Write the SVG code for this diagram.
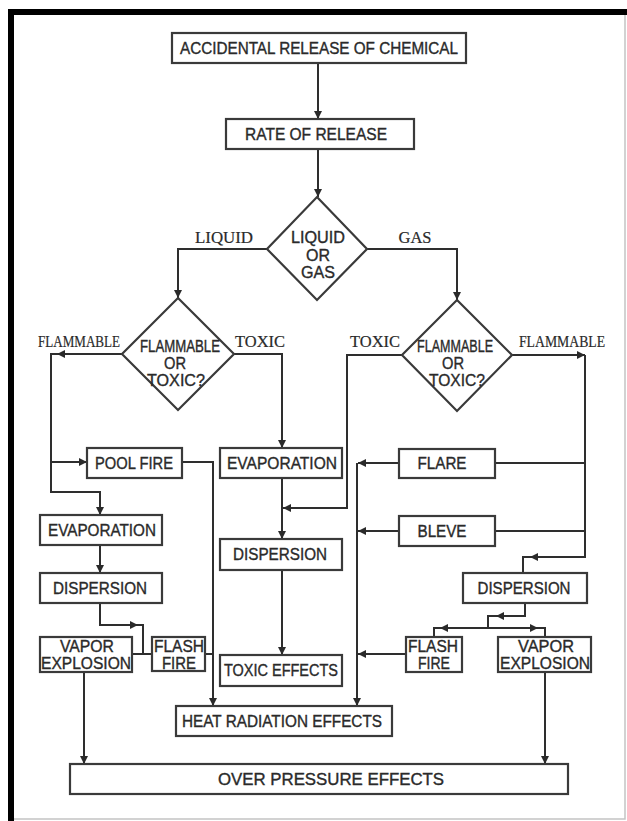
<svg xmlns="http://www.w3.org/2000/svg" width="627" height="821" viewBox="0 0 627 821">
  <defs>
    <marker id="ah" viewBox="0 0 10 10" refX="10" refY="5" markerWidth="9" markerHeight="8" markerUnits="userSpaceOnUse" orient="auto">
      <path d="M0,0 L10,5 L0,10 z" fill="#2a2a2a"/>
    </marker>
  </defs>
  <style>
    .box { fill: #ffffff; stroke: #3a3a3a; stroke-width: 2.2; }
    .dia { fill: #ffffff; stroke: #3a3a3a; stroke-width: 2.2; stroke-linejoin: miter; }
    .ln { fill: none; stroke: #2e2e2e; stroke-width: 2; }
    .arr { fill: none; stroke: #2e2e2e; stroke-width: 2; marker-end: url(#ah); }
    .t { font-family: "Liberation Sans", Arial, sans-serif; font-size: 16px; fill: #2a2a2a; stroke: #2a2a2a; stroke-width: 0.35; text-anchor: middle; }
    .e { font-family: "Liberation Serif", "Times New Roman", serif; font-size: 16px; fill: #2a2a2a; stroke: #2a2a2a; stroke-width: 0.2; text-anchor: middle; }
  </style>

  <!-- page frame -->
  <rect x="0" y="0" width="627" height="821" fill="#ffffff"/>
  <g id="frame">
    <path d="M11,821 V12 H627" fill="none" stroke="#000000" stroke-width="6"/>
    <path d="M14,819 H625 V15" fill="none" stroke="#c4c4c4" stroke-width="1.5"/>
  </g>

  <!-- connectors -->
  <g id="connectors">
    <path class="arr" d="M318,63 V119"/>
    <path class="arr" d="M318,149 V197"/>
    <path class="arr" d="M267,249 H178 V298"/>
    <path class="arr" d="M367,249 H457 V300"/>

    <!-- liquid branch -->
    <path class="arr" d="M122,354 H57"/>
    <path class="ln" d="M58,354 H51 V492 H92"/>
    <path class="arr" d="M91,492 H100 V515"/>
    <path class="arr" d="M51,462 H87"/>
    <path class="ln" d="M182,462 H213 V698"/>
    <path class="arr" d="M213,690 V706"/>
    <path class="arr" d="M100,545 V573"/>
    <path class="arr" d="M100,603 V625 H138"/>
    <path class="ln" d="M138,625 H143 V654"/>
    <path class="ln" d="M132,654 H152"/>
    <path class="ln" d="M205,654 H213"/>
    <path class="arr" d="M84,672 V764"/>
    <path class="arr" d="M234,354 H282 V448"/>
    <path class="arr" d="M282,478 V539"/>
    <path class="arr" d="M282,570 V655"/>

    <!-- gas branch -->
    <path class="arr" d="M402,355 H347 V508 H283"/>
    <path class="arr" d="M512,355 H585"/>
    <path class="ln" d="M585,355 V557 H531"/>
    <path class="arr" d="M545,557 H530"/>
    <path class="ln" d="M531,557 H523 V573"/>
    <path class="ln" d="M495,463 H585"/>
    <path class="ln" d="M495,531 H585"/>
    <path class="arr" d="M399,463 H358"/>
    <path class="arr" d="M399,531 H358"/>
    <path class="arr" d="M357,463 V706"/>
    <path class="arr" d="M525,603 V616 H496"/>
    <path class="ln" d="M496,616 H488 V628"/>
    <path class="arr" d="M488,628 H440"/>
    <path class="ln" d="M440,628 H434 V637"/>
    <path class="arr" d="M488,628 H538"/>
    <path class="ln" d="M538,628 H545 V637"/>
    <path class="arr" d="M406,654 H358"/>
    <path class="arr" d="M545,672 V764"/>
  </g>

  <!-- branch labels -->
  <g id="labels">
    <text class="e" x="224" y="243" textLength="58" lengthAdjust="spacingAndGlyphs">LIQUID</text>
    <text class="e" x="415" y="243" textLength="33" lengthAdjust="spacingAndGlyphs">GAS</text>
    <text class="e" x="79" y="347" textLength="82" lengthAdjust="spacingAndGlyphs">FLAMMABLE</text>
    <text class="e" x="260" y="347" textLength="50" lengthAdjust="spacingAndGlyphs">TOXIC</text>
    <text class="e" x="375" y="347" textLength="50" lengthAdjust="spacingAndGlyphs">TOXIC</text>
    <text class="e" x="562" y="347" textLength="86" lengthAdjust="spacingAndGlyphs">FLAMMABLE</text>
  </g>

  <g id="release">
    <rect class="box" x="172" y="33" width="294" height="30"/>
    <text class="t" x="319" y="54" textLength="278" lengthAdjust="spacingAndGlyphs">ACCIDENTAL RELEASE OF CHEMICAL</text>
  </g>
  <g id="rate">
    <rect class="box" x="226" y="119" width="188" height="30"/>
    <text class="t" x="316" y="140" textLength="142" lengthAdjust="spacingAndGlyphs">RATE OF RELEASE</text>
  </g>
  <g id="liquid-or-gas">
    <polygon class="dia" points="317,197 367,249 317,300 267,249"/>
    <text class="t" x="318" y="243" textLength="54" lengthAdjust="spacingAndGlyphs">LIQUID</text>
    <text class="t" x="318" y="261" textLength="24" lengthAdjust="spacingAndGlyphs">OR</text>
    <text class="t" x="318" y="278" textLength="34" lengthAdjust="spacingAndGlyphs">GAS</text>
  </g>
  <g id="liquid-hazard">
    <polygon class="dia" points="178,298 234,354 178,410 122,354"/>
    <text class="t" x="180" y="352" textLength="80" lengthAdjust="spacingAndGlyphs">FLAMMABLE</text>
    <text class="t" x="175" y="369" textLength="22" lengthAdjust="spacingAndGlyphs">OR</text>
    <text class="t" x="176" y="386" textLength="58" lengthAdjust="spacingAndGlyphs">TOXIC?</text>
  </g>
  <g id="gas-hazard">
    <polygon class="dia" points="457,300 512,355 457,411 402,355"/>
    <text class="t" x="455" y="352" textLength="76" lengthAdjust="spacingAndGlyphs">FLAMMABLE</text>
    <text class="t" x="453" y="369" textLength="22" lengthAdjust="spacingAndGlyphs">OR</text>
    <text class="t" x="457" y="386" textLength="56" lengthAdjust="spacingAndGlyphs">TOXIC?</text>
  </g>

  <g id="pool-fire">
    <rect class="box" x="87" y="448" width="95" height="30"/>
    <text class="t" x="134" y="469" textLength="78" lengthAdjust="spacingAndGlyphs">POOL FIRE</text>
  </g>
  <g id="evaporation-liquid">
    <rect class="box" x="40" y="515" width="122" height="30"/>
    <text class="t" x="102" y="536" textLength="108" lengthAdjust="spacingAndGlyphs">EVAPORATION</text>
  </g>
  <g id="dispersion-liquid">
    <rect class="box" x="40" y="573" width="122" height="30"/>
    <text class="t" x="100" y="594" textLength="94" lengthAdjust="spacingAndGlyphs">DISPERSION</text>
  </g>
  <g id="vapor-explosion-liquid">
    <rect class="box" x="40" y="637" width="92" height="35"/>
    <text class="t" x="87" y="652" textLength="54" lengthAdjust="spacingAndGlyphs">VAPOR</text>
    <text class="t" x="86" y="669" textLength="90" lengthAdjust="spacingAndGlyphs">EXPLOSION</text>
  </g>
  <g id="flash-fire-liquid">
    <rect class="box" x="152" y="637" width="53" height="34"/>
    <text class="t" x="179" y="652" textLength="50" lengthAdjust="spacingAndGlyphs">FLASH</text>
    <text class="t" x="179" y="669" textLength="34" lengthAdjust="spacingAndGlyphs">FIRE</text>
  </g>
  <g id="evaporation-toxic">
    <rect class="box" x="220" y="448" width="122" height="30"/>
    <text class="t" x="282" y="469" textLength="110" lengthAdjust="spacingAndGlyphs">EVAPORATION</text>
  </g>
  <g id="dispersion-toxic">
    <rect class="box" x="220" y="539" width="122" height="31"/>
    <text class="t" x="280" y="560" textLength="94" lengthAdjust="spacingAndGlyphs">DISPERSION</text>
  </g>
  <g id="toxic-effects">
    <rect class="box" x="220" y="655" width="122" height="31"/>
    <text class="t" x="281" y="676" textLength="114" lengthAdjust="spacingAndGlyphs">TOXIC EFFECTS</text>
  </g>
  <g id="heat-radiation">
    <rect class="box" x="176" y="706" width="216" height="30"/>
    <text class="t" x="282" y="727" textLength="200" lengthAdjust="spacingAndGlyphs">HEAT RADIATION EFFECTS</text>
  </g>
  <g id="over-pressure">
    <rect class="box" x="70" y="764" width="498" height="30"/>
    <text class="t" x="331" y="785" textLength="226" lengthAdjust="spacingAndGlyphs">OVER PRESSURE EFFECTS</text>
  </g>
  <g id="flare">
    <rect class="box" x="399" y="449" width="96" height="29"/>
    <text class="t" x="442" y="469" textLength="49" lengthAdjust="spacingAndGlyphs">FLARE</text>
  </g>
  <g id="bleve">
    <rect class="box" x="399" y="516" width="96" height="30"/>
    <text class="t" x="442" y="537" textLength="49" lengthAdjust="spacingAndGlyphs">BLEVE</text>
  </g>
  <g id="dispersion-gas">
    <rect class="box" x="463" y="573" width="124" height="30"/>
    <text class="t" x="524" y="594" textLength="93" lengthAdjust="spacingAndGlyphs">DISPERSION</text>
  </g>
  <g id="flash-fire-gas">
    <rect class="box" x="406" y="637" width="56" height="35"/>
    <text class="t" x="433" y="652" textLength="50" lengthAdjust="spacingAndGlyphs">FLASH</text>
    <text class="t" x="434" y="669" textLength="32" lengthAdjust="spacingAndGlyphs">FIRE</text>
  </g>
  <g id="vapor-explosion-gas">
    <rect class="box" x="498" y="637" width="93" height="35"/>
    <text class="t" x="546" y="652" textLength="56" lengthAdjust="spacingAndGlyphs">VAPOR</text>
    <text class="t" x="545" y="669" textLength="90" lengthAdjust="spacingAndGlyphs">EXPLOSION</text>
  </g>
</svg>
